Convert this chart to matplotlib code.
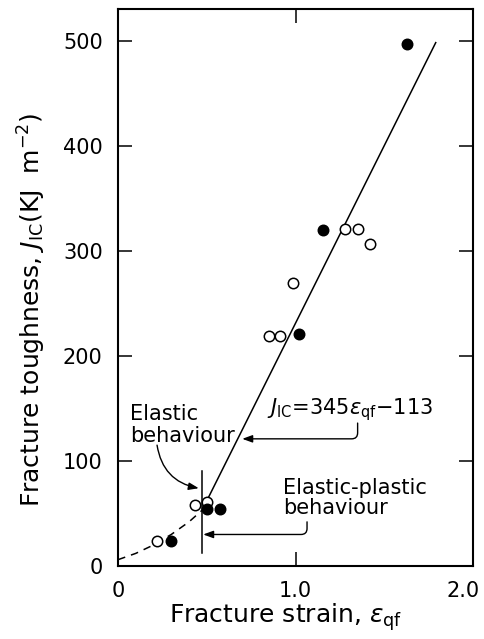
import matplotlib
matplotlib.use("Agg")
import matplotlib.pyplot as plt
from matplotlib.transforms import ScaledTranslation

# ---- data ----
open_strain = [1.28, 1.35, 1.42, 0.985, 0.85, 0.91, 0.434, 0.50, 0.22]
open_J = [321, 321, 306, 269, 219, 219, 58, 61, 24]

filled_strain = [1.63, 1.155, 1.02, 0.50, 0.575, 0.30]
filled_J = [497, 320, 221, 54, 54, 24]

fit_strain = [0.50, 1.79]
fit_J = [62, 498]

elastic_strain = [0.0, 0.1, 0.2, 0.3, 0.4, 0.5]
elastic_J = [6, 12, 20, 30, 42, 57]

boundary_strain = [0.475, 0.475]
boundary_J = [12, 90]

xticks = [0, 1.0, 2.0]
xticklabels = ["0", "1.0", "2.0"]
yticks = [0, 100, 200, 300, 400, 500]
yticklabels = ["0", "100", "200", "300", "400", "500"]

plt.rcParams['font.family'] = ['DejaVu Sans']
plt.rcParams['mathtext.fontset'] = 'dejavusans'

fig = plt.figure(figsize=(4.84, 6.39), dpi=100)
ax = fig.add_axes([118/484, 1-566/639, (473-118)/484, (566-9)/639])

ax.plot(fit_strain, fit_J, color='black', lw=1.1)
ax.plot(elastic_strain, elastic_J, color='black', lw=1.1, ls=(0, (5, 4)))
ax.plot(boundary_strain, boundary_J, color='black', lw=1.1)

ax.plot(open_strain, open_J, ls='none', marker='o', ms=7.5, mfc='white',
        mec='black', mew=1.1, zorder=3)
ax.plot(filled_strain, filled_J, ls='none', marker='o', ms=7.5, mfc='black',
        mec='black', mew=1.1, zorder=3)

ax.set_xlim(0, 2.0)
ax.set_ylim(0, 530)
ax.set_xticks(xticks)
ax.set_xticklabels(xticklabels)
ax.set_yticks(yticks)
ax.set_yticklabels(yticklabels)
ax.tick_params(direction='in', length=10, width=1.1, labelsize=15,
               top=True, right=True, pad=11)
for s in ax.spines.values():
    s.set_linewidth(1.5)

# shift the last x tick label a little left, as in the reference
lbl = ax.get_xticklabels()[-1]
lbl.set_transform(lbl.get_transform() + ScaledTranslation(-0.10, 0, fig.dpi_scale_trans))

ax.set_xlabel(r"Fracture strain, $\epsilon_{\mathrm{qf}}$", fontsize=18, va='top')
ax.xaxis.set_label_coords(0.473, -0.064)
ax.set_ylabel(r"Fracture toughness, $J_{\mathrm{IC}}$(KJ  m$^{-2}$)", fontsize=18)
ax.yaxis.set_label_coords(-0.196, 0.46)

arrow = dict(arrowstyle='-|>,head_length=0.6,head_width=0.22', color='black',
             lw=1.0, shrinkA=0, shrinkB=0)

ax.text(0.068, 134, "Elastic\nbehaviour", fontsize=15, ha='left', va='center',
        linespacing=1.15)
ax.annotate("", xy=(0.455, 74), xytext=(0.22, 115),
            arrowprops=dict(arrow, connectionstyle="arc3,rad=0.35"))

ax.text(0.84, 149, r"$J_{\mathrm{IC}}$=345$\epsilon_{\mathrm{qf}}$$-$113",
        fontsize=15, ha='left', va='center')
ax.annotate("", xy=(0.70, 121), xytext=(1.35, 136),
            arrowprops=dict(arrow, connectionstyle="angle,angleA=-90,angleB=0,rad=6"))

ax.text(0.93, 65, "Elastic-plastic\nbehaviour", fontsize=15, ha='left',
        va='center', linespacing=1.0)
ax.annotate("", xy=(0.48, 30), xytext=(1.065, 42),
            arrowprops=dict(arrow, connectionstyle="angle,angleA=-90,angleB=0,rad=6"))

fig.savefig("out.png", dpi=100)
